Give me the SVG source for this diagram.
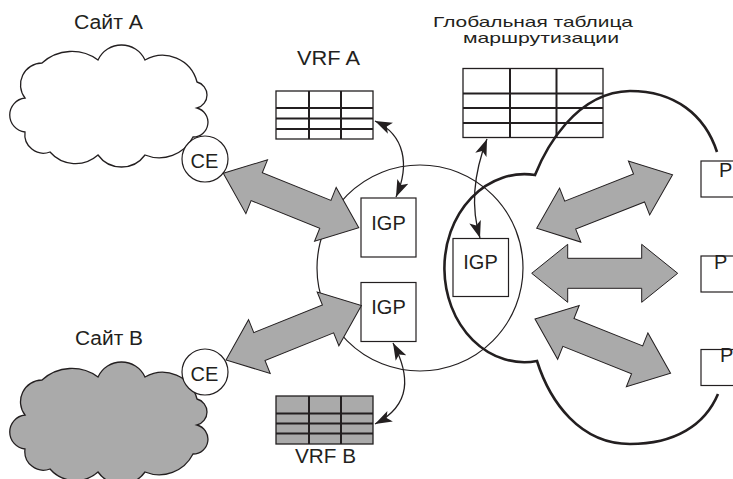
<svg xmlns="http://www.w3.org/2000/svg" xmlns:xlink="http://www.w3.org/1999/xlink" width="733" height="479" viewBox="0 0 733 479">
  <style>
    .lbl { font-family: "Liberation Sans", Arial, sans-serif; font-size: 20px; fill: #231f20; }
    .ttl { font-family: "Liberation Sans", Arial, sans-serif; font-size: 15px; fill: #231f20; }
    .mid { text-anchor: middle; }
    .thin { fill: none; stroke: #231f20; stroke-width: 1.2; }
    .box { fill: #ffffff; stroke: #231f20; stroke-width: 1.2; }
    .frame { stroke: #231f20; stroke-width: 1.3; }
    .grid { stroke: #231f20; stroke-width: 2; fill: none; }
    .fat { fill: #aaaaaa; stroke: #231f20; stroke-width: 1; stroke-linejoin: miter; }
    .link { fill: none; stroke: #231f20; stroke-width: 1.3; marker-start: url(#tip); marker-end: url(#tip); }
    .core { fill: none; stroke: #231f20; stroke-width: 2.6; }
  </style>
  <defs>
    <!-- black arrowhead for the thin table links -->
    <marker id="tip" viewBox="0 -7 18 14" refX="17" refY="0" markerWidth="18" markerHeight="14" markerUnits="userSpaceOnUse" orient="auto-start-reverse">
      <path d="M0,-6 L17,0 L0,6 L4,0 Z" fill="#231f20"/>
    </marker>
    <!-- wide double-headed arrow, laid out along +x from 0 to 146 -->
    <path id="dbl" class="fat" d="M0,0 L36,-29 L36,-15 L110,-15 L110,-29 L146,0 L110,29 L110,15 L36,15 L36,29 Z"/>
    <!-- site cloud outline -->
    <path id="cloud" d="M42,63 A44.2,44.2 0 0 1 98,60 A25.9,25.9 0 0 1 145,60 A35.5,35.5 0 0 1 197,82 A13.45,13.45 0 0 1 197,108 A14.75,14.75 0 0 1 193,137 A37.9,37.9 0 0 1 145,155 A29,29 0 0 1 98,155 A33.8,33.8 0 0 1 50,152 A18.7,18.7 0 0 1 25,132 A17.1,17.1 0 0 1 25,98 A21.75,21.75 0 0 1 42,63 Z" stroke="#231f20" stroke-width="1.3"/>
  </defs>

  <!-- Site A -->
  <g id="site-a">
    <use xlink:href="#cloud" fill="#ffffff"/>
    <text class="lbl" x="74" y="29" textLength="69" lengthAdjust="spacingAndGlyphs">Сайт A</text>
  </g>
  <g id="ce-a">
    <circle class="box" cx="205" cy="159" r="23"/>
    <text class="lbl mid" x="204.5" y="168">CE</text>
  </g>

  <!-- Site B -->
  <g id="site-b">
    <use xlink:href="#cloud" fill="#aaaaaa" transform="translate(0,317)"/>
    <text class="lbl" x="75" y="345" textLength="68" lengthAdjust="spacingAndGlyphs">Сайт B</text>
  </g>
  <g id="ce-b">
    <circle class="box" cx="205" cy="372" r="23"/>
    <text class="lbl mid" x="204.5" y="381">CE</text>
  </g>

  <!-- PE router -->
  <g id="pe">
    <circle class="thin" cx="420" cy="268" r="103"/>
  </g>

  <!-- VRF A table -->
  <g id="vrf-a">
    <text class="lbl" x="297" y="65" textLength="63" lengthAdjust="spacingAndGlyphs">VRF A</text>
    <rect class="frame" x="276" y="91" width="97" height="48" fill="#ffffff"/>
    <path class="grid" d="M309,91 V139 M341,91 V139 M276,108 H373 M276,118.5 H373 M276,129 H373"/>
  </g>

  <!-- VRF B table -->
  <g id="vrf-b">
    <rect class="frame" x="276" y="396" width="97" height="48" fill="#aaaaaa"/>
    <path class="grid" d="M309,396 V444 M341,396 V444 M276,413.5 H373 M276,423.5 H373 M276,433.5 H373"/>
    <text class="lbl" x="295" y="463" textLength="61" lengthAdjust="spacingAndGlyphs">VRF B</text>
  </g>

  <!-- Global routing table -->
  <g id="global-table">
    <text class="ttl" x="433" y="26.5" textLength="200" lengthAdjust="spacingAndGlyphs">Глобальная таблица</text>
    <text class="ttl" x="463" y="43" textLength="156" lengthAdjust="spacingAndGlyphs">маршрутизации</text>
    <rect class="frame" x="463" y="68.5" width="140" height="69" fill="#ffffff"/>
    <path class="grid" d="M510,68.5 V137.5 M556.5,68.5 V137.5 M463,93.5 H603 M463,108 H603 M463,123 H603"/>
  </g>

  <!-- Provider core -->
  <g id="core">
    <path class="core" d="M717,152 C705,115 675,91 630,91 C575,92 545,150 535,175 A80,94 0 1 0 537,361 C550,402 580,444 630,444 C675,444 705,425 718,394"/>
  </g>

  <!-- IGP instances -->
  <g id="igp-a">
    <rect class="box" x="361" y="198" width="55" height="59"/>
    <text class="lbl mid" x="388.5" y="230">IGP</text>
  </g>
  <g id="igp-b">
    <rect class="box" x="361" y="282.5" width="55" height="59"/>
    <text class="lbl mid" x="388.5" y="314">IGP</text>
  </g>
  <g id="igp-global">
    <rect class="box" x="453" y="238.5" width="55.5" height="58"/>
    <text class="lbl mid" x="480.5" y="269">IGP</text>
  </g>

  <!-- P routers -->
  <g id="p1">
    <rect class="box" x="701" y="161" width="40" height="36"/>
    <text class="lbl" x="719" y="177">P</text>
  </g>
  <g id="p2">
    <rect class="box" x="701" y="256" width="40" height="36"/>
    <text class="lbl" x="714" y="269">P</text>
  </g>
  <g id="p3">
    <rect class="box" x="701" y="349.5" width="40" height="36"/>
    <text class="lbl" x="720" y="362">P</text>
  </g>

  <!-- Connectors -->
  <g id="connectors">
    <path class="link" d="M375,121 C405,135 410,165 396,197"/>
    <path class="link" d="M487,139 C475,170 470,205 480,238"/>
    <path class="link" d="M393,343 C410,375 412,405 375,424"/>
    <use xlink:href="#dbl" transform="translate(223.3,173.3) rotate(21.9)"/>
    <use xlink:href="#dbl" transform="translate(226,360) rotate(-21.95)"/>
    <use xlink:href="#dbl" transform="translate(536.7,228.3) rotate(-21.5)"/>
    <use xlink:href="#dbl" transform="translate(531.7,273.3)"/>
    <use xlink:href="#dbl" transform="translate(535,319) rotate(21.8)"/>
  </g>
</svg>
